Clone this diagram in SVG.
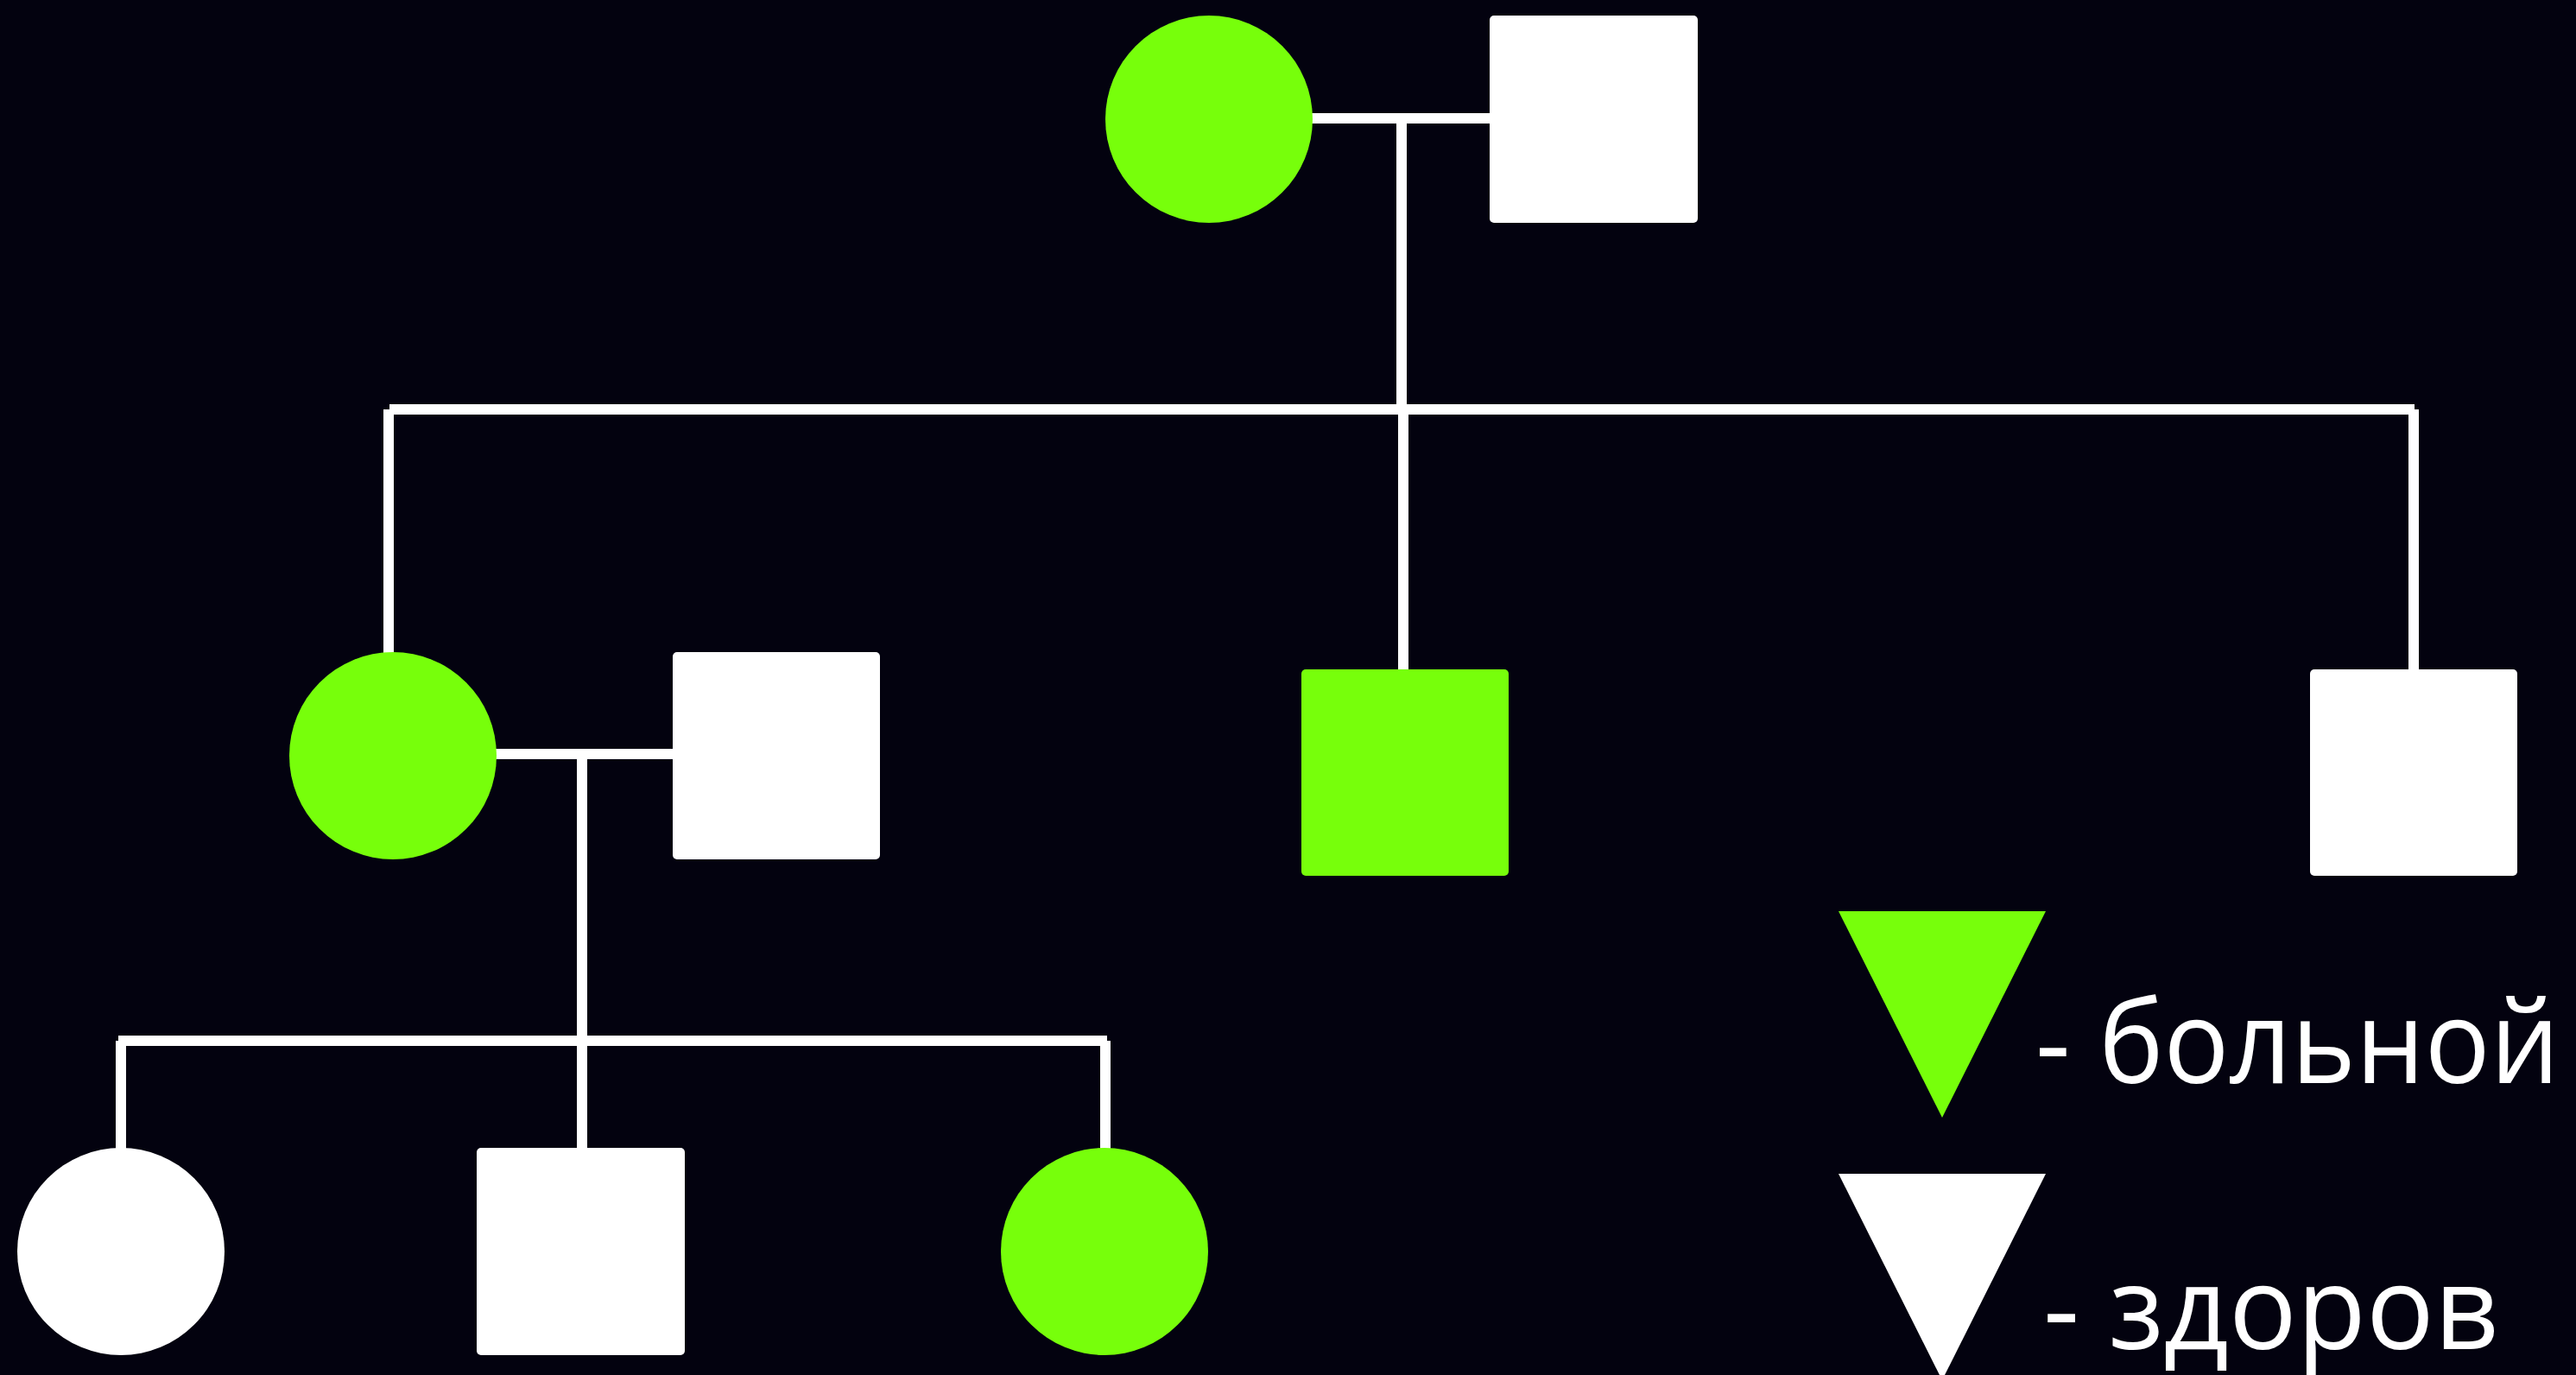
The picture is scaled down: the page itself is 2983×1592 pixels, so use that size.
<svg xmlns="http://www.w3.org/2000/svg" width="2983" height="1592" viewBox="0 0 2983 1592">
<style>
.ill{fill:#77ff0b}
.ok{fill:#ffffff}
.ln{stroke:#ffffff;stroke-width:12;fill:none}
.lbl{font-family:"Open Sans","Noto Sans",sans-serif;font-size:134px;fill:#ffffff}
</style>
<rect x="0" y="0" width="2983" height="1592" fill="#03020f"/>
<g id="connectors">
<line class="ln" x1="1515" y1="137" x2="1730" y2="137"/>
<line class="ln" x1="1623" y1="137" x2="1623" y2="474"/>
<line class="ln" x1="1625" y1="474" x2="1625" y2="780"/>
<line class="ln" x1="451" y1="474" x2="2796" y2="474"/>
<line class="ln" x1="450" y1="474" x2="450" y2="760"/>
<line class="ln" x1="2795" y1="474" x2="2795" y2="780"/>
<line class="ln" x1="570" y1="873" x2="784" y2="873"/>
<line class="ln" x1="674" y1="873" x2="674" y2="1333"/>
<line class="ln" x1="137" y1="1205" x2="1282" y2="1205"/>
<line class="ln" x1="140" y1="1205" x2="140" y2="1333"/>
<line class="ln" x1="1280" y1="1205" x2="1280" y2="1333"/>
</g>
<g id="gen1-mother"><circle class="ill" cx="1400" cy="138" r="120"/></g>
<g id="gen1-father"><rect class="ok" x="1725" y="18" width="241" height="240" rx="5"/></g>
<g id="gen2-daughter"><circle class="ill" cx="455" cy="875" r="120"/></g>
<g id="gen2-son-in-law"><rect class="ok" x="779" y="755" width="240" height="240" rx="5"/></g>
<g id="gen2-son-ill"><rect class="ill" x="1507" y="775" width="240" height="239" rx="5"/></g>
<g id="gen2-son-healthy"><rect class="ok" x="2675" y="775" width="240" height="239" rx="5"/></g>
<g id="gen3-daughter"><circle class="ok" cx="140" cy="1449" r="120"/></g>
<g id="gen3-son"><rect class="ok" x="552" y="1329" width="241" height="240" rx="5"/></g>
<g id="gen3-daughter-ill"><circle class="ill" cx="1279" cy="1449" r="120"/></g>
<g id="legend-ill">
<polygon class="ill" points="2129,1055 2369,1055 2249,1294"/>
<text class="lbl" x="2357" y="1254" textLength="607" lengthAdjust="spacingAndGlyphs">- больной</text>
</g>
<g id="legend-healthy">
<polygon class="ok" points="2129,1359 2369,1359 2249,1598"/>
<text class="lbl" x="2366" y="1562" textLength="528" lengthAdjust="spacingAndGlyphs">- здоров</text>
</g>
</svg>
